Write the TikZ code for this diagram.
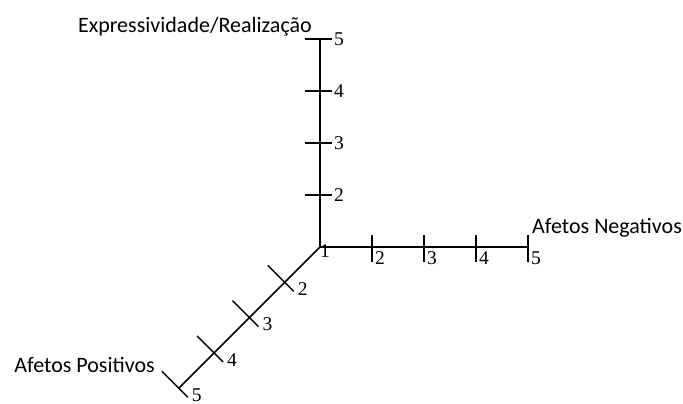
\documentclass[tikz,border=0pt]{standalone}
\usepackage{fontspec}
\setmainfont{Liberation Serif}
\newfontfamily\lblfont{Carlito}
\usetikzlibrary{positioning,calc}
\tikzset{
  axis/.style={line width=1.6pt, draw=black},
  axtick/.style={line width=1.4pt, draw=black},
  num/.style={font=\fontsize{19.5}{20}\selectfont, inner sep=0pt},
  axlbl/.style={font=\lblfont\fontsize{22}{24}\selectfont, inner sep=0pt},
}

\begin{document}
\begin{tikzpicture}[x=1pt,y=-1pt]
  \useasboundingbox (0,0) rectangle (683,404);
  \coordinate (O) at (320,247);
  % axis ends
  \coordinate (V5) at ($(O)+(0,-208)$);
  \coordinate (H5) at ($(O)+(208,0)$);
  \coordinate (D5) at ($(O)+(-141.2,141.2)$);
  \draw[axis] (O) -- (V5);
  \draw[axis] (O) -- (H5);
  \draw[axis] (O) -- (D5);
  \node[num] (n1) at ($(O)+(5,4)$) {1};
  % ticks and numbers
  \foreach \i in {2,...,5}{
    \coordinate (V\i) at ($(O)+(0,{-52*(\i-1)})$);
    \coordinate (H\i) at ($(O)+({52*(\i-1)},0)$);
    \coordinate (D\i) at ($(O)+({-35.3*(\i-1)},{35.3*(\i-1)})$);
    \draw[axtick] ($(V\i)+(-15,0)$) -- ($(V\i)+(12,0)$);
    \draw[axtick] ($(H\i)+(0,-12)$) -- ($(H\i)+(0,15)$);
    \draw[axtick] ($(D\i)+(-17,-17)$) -- ($(D\i)+(9,9)$);
    \node[num] (nv\i) at ($(V\i)+(19,0)$) {\i};
    \node[num] (nh\i) at ($(H\i)+(8,11)$) {\i};
    \node[num] (nd\i) at ($(D\i)+(18,7)$) {\i};
  }
  % axis names
  \node[axlbl,anchor=base east] (expr) at (312,33) {Expressividade/Realização};
  \node[axlbl,anchor=base west] (neg) at (532,233) {Afetos Negativos};
  \node[axlbl,anchor=base east] (pos) at (155,372) {Afetos Positivos};
\end{tikzpicture}
\end{document}
